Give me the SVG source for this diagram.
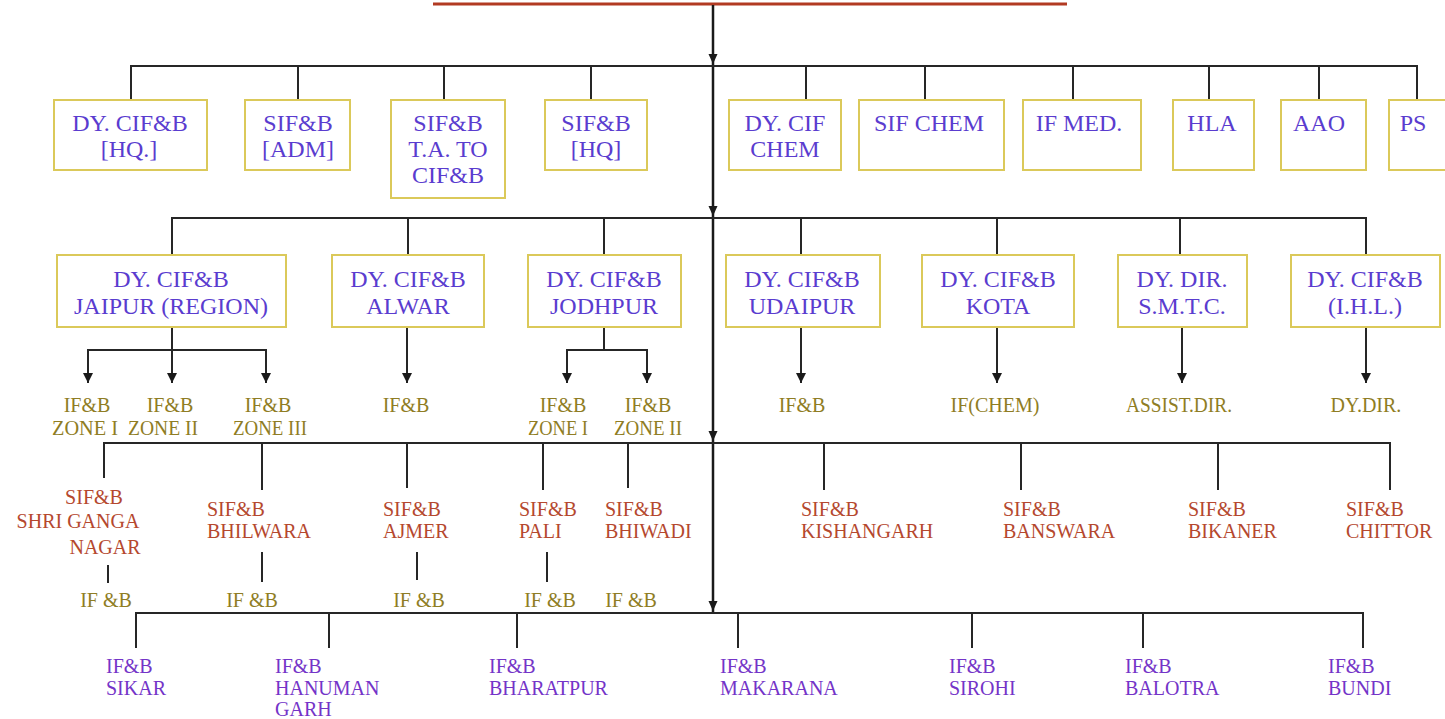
<svg xmlns="http://www.w3.org/2000/svg" width="1445" height="719" viewBox="0 0 1445 719">
<style>
.bg{fill:#ffffff}
.box{fill:#ffffff;stroke:#dbc95a;stroke-width:2}
.ln{stroke:#262626;stroke-width:2;fill:none}
.tr{stroke:#1a1a1a;stroke-width:2.5;fill:none}
.ah{fill:#1a1a1a}
.red{stroke:#b23a22;stroke-width:3}
text{font-family:"Liberation Serif","Times New Roman",serif}
.t1{font-size:24px;fill:#5a3ccf;text-anchor:middle}
.lz{font-size:20px;fill:#8f7d24;text-anchor:middle}
.s3{font-size:20px;fill:#b5482e}
.i3{font-size:20px;fill:#8f7d24;text-anchor:middle}
.p4{font-size:20px;fill:#7434c8}
</style>
<defs>
<marker id="arr" viewBox="0 0 10 10" refX="10" refY="5" markerWidth="10" markerHeight="10" markerUnits="userSpaceOnUse" orient="auto">
<path d="M0,0 L10,5 L0,10 z" fill="#1a1a1a"/>
</marker>
</defs>
<rect class="bg" x="0" y="0" width="1445" height="719"/>

<g id="connectors">
<line class="red" x1="433" y1="4" x2="1067" y2="4"/>
<line class="tr" x1="713" y1="5" x2="713" y2="613"/>
<polygon class="ah" points="708.5,54 717.5,54 713,64"/>
<polygon class="ah" points="708.5,206 717.5,206 713,216"/>
<polygon class="ah" points="708.5,431 717.5,431 713,441"/>
<polygon class="ah" points="708.5,601 717.5,601 713,611"/>
<path class="ln" d="M131,100 V66 H1417 V100 M298,66 V100 M444,66 V100 M591,66 V100 M806,66 V100 M925,66 V100 M1073,66 V100 M1209,66 V100 M1319,66 V100"/>
<path class="ln" d="M172,255 V218 H1366 V255 M408,218 V255 M604,218 V255 M801,218 V255 M997,218 V255 M1180,218 V255"/>
<line class="ln" x1="172" y1="327" x2="172" y2="383" marker-end="url(#arr)"/>
<path class="ln" d="M88,383 V350 H266 V383"/>
<line class="ln" x1="88" y1="350" x2="88" y2="383" marker-end="url(#arr)"/>
<line class="ln" x1="266" y1="350" x2="266" y2="383" marker-end="url(#arr)"/>
<line class="ln" x1="407" y1="327" x2="407" y2="383" marker-end="url(#arr)"/>
<path class="ln" d="M604,327 V350 M567,383 V350 H647 V383"/>
<line class="ln" x1="567" y1="350" x2="567" y2="383" marker-end="url(#arr)"/>
<line class="ln" x1="647" y1="350" x2="647" y2="383" marker-end="url(#arr)"/>
<line class="ln" x1="801" y1="327" x2="801" y2="383" marker-end="url(#arr)"/>
<line class="ln" x1="997" y1="327" x2="997" y2="383" marker-end="url(#arr)"/>
<line class="ln" x1="1182" y1="327" x2="1182" y2="383" marker-end="url(#arr)"/>
<line class="ln" x1="1366" y1="327" x2="1366" y2="383" marker-end="url(#arr)"/>
<path class="ln" d="M104,478 V443 H1390 V490 M262,443 V490 M407,443 V488 M543,443 V490 M628,443 V488 M824,443 V490 M1021,443 V490 M1218,443 V490"/>
<path class="ln" d="M108,565 V583 M262,552 V582 M417,552 V580 M547,552 V582"/>
<path class="ln" d="M136,648 V613 H1363 V648 M329,613 V648 M517,613 V648 M738,613 V648 M972,613 V648 M1143,613 V648"/>
</g>

<g id="n-dycifb-hq"><rect class="box" x="54" y="100" width="153" height="70"/><text class="t1" x="130" y="131">DY. CIF&amp;B</text><text class="t1" x="129" y="157">[HQ.]</text></g>
<g id="n-sifb-adm"><rect class="box" x="245" y="100" width="105" height="70"/><text class="t1" x="298" y="131">SIF&amp;B</text><text class="t1" x="298" y="157">[ADM]</text></g>
<g id="n-sifb-ta"><rect class="box" x="391" y="100" width="114" height="98"/><text class="t1" x="448" y="131">SIF&amp;B</text><text class="t1" x="448" y="157">T.A. TO</text><text class="t1" x="448" y="183">CIF&amp;B</text></g>
<g id="n-sifb-hq"><rect class="box" x="545" y="100" width="102" height="70"/><text class="t1" x="596" y="131">SIF&amp;B</text><text class="t1" x="596" y="157">[HQ]</text></g>
<g id="n-dycif-chem"><rect class="box" x="729" y="100" width="112" height="70"/><text class="t1" x="785" y="131">DY. CIF</text><text class="t1" x="785" y="157">CHEM</text></g>
<g id="n-sif-chem"><rect class="box" x="859" y="100" width="145" height="70"/><text class="t1" x="929" y="131">SIF CHEM</text></g>
<g id="n-if-med"><rect class="box" x="1023" y="100" width="118" height="70"/><text class="t1" x="1079" y="131">IF MED.</text></g>
<g id="n-hla"><rect class="box" x="1173" y="100" width="81" height="70"/><text class="t1" x="1212" y="131">HLA</text></g>
<g id="n-aao"><rect class="box" x="1281" y="100" width="85" height="70"/><text class="t1" x="1319" y="131">AAO</text></g>
<g id="n-ps"><rect class="box" x="1389" y="100" width="70" height="70"/><text class="t1" x="1413" y="131">PS</text></g>

<g id="n-jaipur"><rect class="box" x="57" y="255" width="229" height="72"/><text class="t1" x="171" y="287">DY. CIF&amp;B</text><text class="t1" x="171" y="314">JAIPUR (REGION)</text></g>
<g id="n-alwar"><rect class="box" x="332" y="255" width="152" height="72"/><text class="t1" x="408" y="287">DY. CIF&amp;B</text><text class="t1" x="408" y="314">ALWAR</text></g>
<g id="n-jodhpur"><rect class="box" x="528" y="255" width="153" height="72"/><text class="t1" x="604" y="287">DY. CIF&amp;B</text><text class="t1" x="604" y="314">JODHPUR</text></g>
<g id="n-udaipur"><rect class="box" x="726" y="255" width="154" height="72"/><text class="t1" x="802" y="287">DY. CIF&amp;B</text><text class="t1" x="802" y="314">UDAIPUR</text></g>
<g id="n-kota"><rect class="box" x="922" y="255" width="152" height="72"/><text class="t1" x="998" y="287">DY. CIF&amp;B</text><text class="t1" x="998" y="314">KOTA</text></g>
<g id="n-smtc"><rect class="box" x="1118" y="255" width="129" height="72"/><text class="t1" x="1182" y="287">DY. DIR.</text><text class="t1" x="1182" y="314">S.M.T.C.</text></g>
<g id="n-ihl"><rect class="box" x="1291" y="255" width="149" height="72"/><text class="t1" x="1365" y="287">DY. CIF&amp;B</text><text class="t1" x="1365" y="314">(I.H.L.)</text></g>

<g id="n-jz1"><text class="lz" x="87" y="412">IF&amp;B</text><text class="lz" x="85" y="435" textLength="66" lengthAdjust="spacingAndGlyphs">ZONE I</text></g>
<g id="n-jz2"><text class="lz" x="170" y="412">IF&amp;B</text><text class="lz" x="163" y="435" textLength="70" lengthAdjust="spacingAndGlyphs">ZONE II</text></g>
<g id="n-jz3"><text class="lz" x="268" y="412">IF&amp;B</text><text class="lz" x="270" y="435" textLength="74" lengthAdjust="spacingAndGlyphs">ZONE III</text></g>
<g id="n-alwar-ifb"><text class="lz" x="406" y="412">IF&amp;B</text></g>
<g id="n-jdz1"><text class="lz" x="563" y="412">IF&amp;B</text><text class="lz" x="558" y="435" textLength="60" lengthAdjust="spacingAndGlyphs">ZONE I</text></g>
<g id="n-jdz2"><text class="lz" x="648" y="412">IF&amp;B</text><text class="lz" x="648" y="435" textLength="68" lengthAdjust="spacingAndGlyphs">ZONE II</text></g>
<g id="n-udaipur-ifb"><text class="lz" x="802" y="412">IF&amp;B</text></g>
<g id="n-ifchem"><text class="lz" x="995" y="412">IF(CHEM)</text></g>
<g id="n-assist"><text class="lz" x="1179" y="412" textLength="106" lengthAdjust="spacingAndGlyphs">ASSIST.DIR.</text></g>
<g id="n-dydir"><text class="lz" x="1366" y="412">DY.DIR.</text></g>

<g id="n-sriganga"><text class="s3" x="94" y="504" text-anchor="middle">SIF&amp;B</text><text class="s3" x="78" y="528" text-anchor="middle">SHRI GANGA</text><text class="s3" x="105" y="554" text-anchor="middle">NAGAR</text></g>
<g id="n-sriganga-ifb"><text class="i3" x="106" y="607">IF &amp;B</text></g>
<g id="n-bhilwara"><text class="s3" x="207" y="516">SIF&amp;B</text><text class="s3" x="207" y="538">BHILWARA</text></g>
<g id="n-bhilwara-ifb"><text class="i3" x="252" y="607">IF &amp;B</text></g>
<g id="n-ajmer"><text class="s3" x="383" y="516">SIF&amp;B</text><text class="s3" x="383" y="538">AJMER</text></g>
<g id="n-ajmer-ifb"><text class="i3" x="419" y="607">IF &amp;B</text></g>
<g id="n-pali"><text class="s3" x="519" y="516">SIF&amp;B</text><text class="s3" x="519" y="538">PALI</text></g>
<g id="n-pali-ifb"><text class="i3" x="550" y="607">IF &amp;B</text></g>
<g id="n-bhiwadi"><text class="s3" x="605" y="516">SIF&amp;B</text><text class="s3" x="605" y="538">BHIWADI</text></g>
<g id="n-bhiwadi-ifb"><text class="i3" x="631" y="607">IF &amp;B</text></g>
<g id="n-kishangarh"><text class="s3" x="801" y="516">SIF&amp;B</text><text class="s3" x="801" y="538">KISHANGARH</text></g>
<g id="n-banswara"><text class="s3" x="1003" y="516">SIF&amp;B</text><text class="s3" x="1003" y="538">BANSWARA</text></g>
<g id="n-bikaner"><text class="s3" x="1188" y="516">SIF&amp;B</text><text class="s3" x="1188" y="538">BIKANER</text></g>
<g id="n-chittor"><text class="s3" x="1346" y="516">SIF&amp;B</text><text class="s3" x="1346" y="538">CHITTOR</text></g>

<g id="n-sikar"><text class="p4" x="106" y="673">IF&amp;B</text><text class="p4" x="106" y="695">SIKAR</text></g>
<g id="n-hanumangarh"><text class="p4" x="275" y="673">IF&amp;B</text><text class="p4" x="275" y="695">HANUMAN</text><text class="p4" x="275" y="716">GARH</text></g>
<g id="n-bharatpur"><text class="p4" x="489" y="673">IF&amp;B</text><text class="p4" x="489" y="695">BHARATPUR</text></g>
<g id="n-makarana"><text class="p4" x="720" y="673">IF&amp;B</text><text class="p4" x="720" y="695">MAKARANA</text></g>
<g id="n-sirohi"><text class="p4" x="949" y="673">IF&amp;B</text><text class="p4" x="949" y="695">SIROHI</text></g>
<g id="n-balotra"><text class="p4" x="1125" y="673">IF&amp;B</text><text class="p4" x="1125" y="695">BALOTRA</text></g>
<g id="n-bundi"><text class="p4" x="1328" y="673">IF&amp;B</text><text class="p4" x="1328" y="695">BUNDI</text></g>
</svg>
